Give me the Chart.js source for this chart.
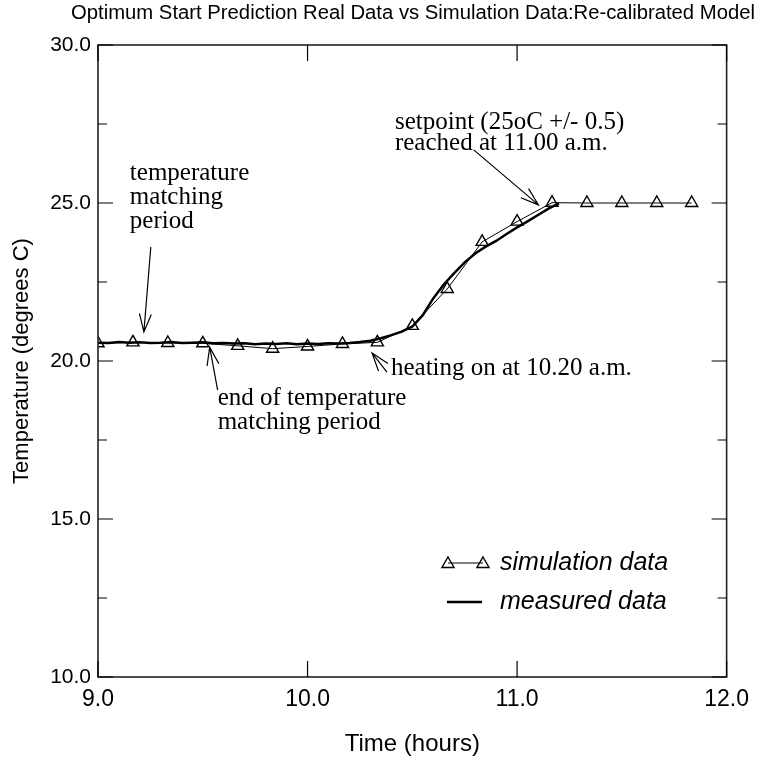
<!DOCTYPE html>
<html>
<head>
<meta charset="utf-8">
<script src="https://cdn.jsdelivr.net/npm/chart.js@4.4.0/dist/chart.umd.min.js"></script>
<style>
  html, body { margin: 0; padding: 0; background: #fff; }
  #wrap { width: 758px; height: 768px; }
</style>
</head>
<body>
<div id="wrap"><canvas id="chart" width="758" height="768"></canvas></div>
<script>
// simulation data, every 10 minutes
const simTimes = [9.0, 9.1667, 9.3333, 9.5, 9.6667, 9.8333, 10.0, 10.1667, 10.3333,
  10.5, 10.6667, 10.8333, 11.0, 11.1667, 11.3333, 11.5, 11.6667, 11.8333];
const simTemps = [20.56, 20.59, 20.57, 20.56, 20.48, 20.39, 20.46, 20.54, 20.59,
  21.11, 22.28, 23.77, 24.41, 25.01, 25.0, 25.0, 25.0, 25.0];

// measured data (logger)
const measTimes = [9.0, 9.05, 9.1, 9.15, 9.2, 9.25, 9.3, 9.35, 9.4, 9.45, 9.5, 9.55,
  9.6, 9.65, 9.7, 9.75, 9.8, 9.85, 9.9, 9.95, 10.0, 10.05, 10.1, 10.15, 10.2, 10.25,
  10.3, 10.35, 10.4, 10.45, 10.5, 10.55, 10.6, 10.65, 10.7, 10.75, 10.8, 10.85, 10.9,
  10.95, 11.0, 11.05, 11.1, 11.15, 11.2];
const measTemps = [20.58, 20.57, 20.6, 20.58, 20.59, 20.57, 20.58, 20.6, 20.57, 20.58,
  20.59, 20.56, 20.57, 20.55, 20.56, 20.53, 20.55, 20.54, 20.56, 20.53, 20.55, 20.54,
  20.56, 20.55, 20.57, 20.6, 20.64, 20.72, 20.82, 20.93, 21.09, 21.45, 21.98, 22.42,
  22.78, 23.12, 23.4, 23.62, 23.8, 24.02, 24.23, 24.42, 24.62, 24.82, 24.99];

const xTicks = [9, 10, 11, 12];
const yTicks = [10, 15, 20, 25, 30];
const yMinorTicks = [12.5, 17.5, 22.5, 27.5];

const titleText = "Optimum Start Prediction Real Data vs Simulation Data:Re-calibrated Model";
const legendLabels = ["simulation data", "measured data"];

// notes: text lines, text anchor (data), arrow tail and tip (data)
const notes = [
  { lines: ["temperature", "matching", "period"], at: [9.152, 25.92], step: 24,
    from: [9.252, 23.61], to: [9.219, 20.92] },
  { lines: ["end of temperature", "matching period"], at: [9.571, 18.83], step: 24,
    from: [9.571, 19.08], to: [9.533, 20.44] },
  { lines: ["heating on at 10.20 a.m."], at: [10.398, 19.78], step: 24,
    from: [10.379, 19.65], to: [10.308, 20.25] },
  { lines: ["setpoint (25oC +/- 0.5)", "reached at 11.00 a.m."], at: [10.417, 27.56], step: 21,
    from: [10.793, 26.68], to: [11.102, 24.94] }
];

const SANS = '"Liberation Sans", Arial, Helvetica, sans-serif';
const SERIF = '"Liberation Serif", "Times New Roman", serif';

function drawArrow(ctx, x1, y1, x2, y2) {
  const a = Math.atan2(y2 - y1, x2 - x1);
  const len = 19, spread = 0.32;
  ctx.beginPath();
  ctx.moveTo(x1, y1);
  ctx.lineTo(x2, y2);
  ctx.moveTo(x2 - len * Math.cos(a - spread), y2 - len * Math.sin(a - spread));
  ctx.lineTo(x2, y2);
  ctx.lineTo(x2 - len * Math.cos(a + spread), y2 - len * Math.sin(a + spread));
  ctx.stroke();
}

function drawTriangle(ctx, x, y, r) {
  ctx.beginPath();
  ctx.moveTo(x, y - r);
  ctx.lineTo(x + r * Math.sin(Math.PI * 2 / 3), y - r * Math.cos(Math.PI * 2 / 3));
  ctx.lineTo(x - r * Math.sin(Math.PI * 2 / 3), y - r * Math.cos(Math.PI * 2 / 3));
  ctx.closePath();
  ctx.stroke();
}

const decorations = {
  id: "decorations",
  afterDraw(chart) {
    const { ctx, chartArea: a, scales: { x, y } } = chart;
    ctx.save();
    ctx.strokeStyle = "#000";
    ctx.fillStyle = "#000";

    // frame
    ctx.lineWidth = 1.6;
    ctx.strokeStyle = "#222";
    ctx.strokeRect(a.left, a.top, a.right - a.left, a.bottom - a.top);
    ctx.strokeStyle = "#000";

    // ticks pointing inward on all four sides
    ctx.lineWidth = 1.2;
    ctx.beginPath();
    yTicks.concat(yMinorTicks).forEach(v => {
      const py = y.getPixelForValue(v);
      const len = yTicks.includes(v) ? 15 : 9;
      ctx.moveTo(a.left, py); ctx.lineTo(a.left + len, py);
      ctx.moveTo(a.right, py); ctx.lineTo(a.right - len, py);
    });
    xTicks.forEach(v => {
      const px = x.getPixelForValue(v);
      ctx.moveTo(px, a.bottom); ctx.lineTo(px, a.bottom - 16);
      ctx.moveTo(px, a.top); ctx.lineTo(px, a.top + 16);
    });
    ctx.stroke();

    // notes with arrows
    ctx.font = "25px " + SERIF;
    ctx.textAlign = "left";
    ctx.textBaseline = "middle";
    ctx.lineWidth = 1.2;
    notes.forEach(n => {
      const tx = x.getPixelForValue(n.at[0]);
      const ty = y.getPixelForValue(n.at[1]);
      n.lines.forEach((s, i) => ctx.fillText(s, tx, ty + i * n.step));
      drawArrow(ctx, x.getPixelForValue(n.from[0]), y.getPixelForValue(n.from[1]),
        x.getPixelForValue(n.to[0]), y.getPixelForValue(n.to[1]));
    });

    // legend
    ctx.lineWidth = 1;
    ctx.beginPath();
    ctx.moveTo(448, 563); ctx.lineTo(483, 563);
    ctx.stroke();
    ctx.lineWidth = 1.4;
    drawTriangle(ctx, 448, 564, 7);
    drawTriangle(ctx, 483, 564, 7);
    ctx.lineWidth = 2.5;
    ctx.beginPath();
    ctx.moveTo(447, 602); ctx.lineTo(482, 602);
    ctx.stroke();
    ctx.font = "italic 25px " + SANS;
    ctx.fillText(legendLabels[0], 500, 563);
    ctx.fillText(legendLabels[1], 500, 602);

    // title, condensed to fit its width
    ctx.font = "20px " + SANS;
    const w = ctx.measureText(titleText).width;
    ctx.translate(413, 13);
    ctx.scale(684 / w, 1);
    ctx.textAlign = "center";
    ctx.fillText(titleText, 0, 0);
    ctx.restore();
  }
};

new Chart(document.getElementById("chart"), {
  type: "line",
  data: {
    datasets: [
      {
        label: legendLabels[1],
        data: measTimes.map((t, i) => ({ x: t, y: measTemps[i] })),
        borderColor: "#000",
        borderWidth: 2.5,
        pointRadius: 0,
        tension: 0
      },
      {
        label: legendLabels[0],
        data: simTimes.map((t, i) => ({ x: t, y: simTemps[i] })),
        borderColor: "#000",
        borderWidth: 1,
        pointStyle: "triangle",
        pointRadius: 7,
        pointBorderWidth: 1.4,
        pointBorderColor: "#000",
        pointBackgroundColor: "rgba(0,0,0,0)",
        tension: 0
      }
    ]
  },
  options: {
    responsive: false,
    animation: false,
    layout: { padding: { top: 45, right: 30, bottom: 0, left: 0 } },
    plugins: { legend: { display: false }, tooltip: { enabled: false }, title: { display: false } },
    scales: {
      x: {
        type: "linear",
        min: 9, max: 12,
        afterBuildTicks: s => { s.ticks = xTicks.map(v => ({ value: v })); },
        afterFit: s => { s.height = 91; },
        grid: { display: false, drawTicks: false },
        border: { display: false },
        ticks: { padding: 9, color: "#000", font: { family: SANS, size: 23 },
          maxRotation: 0, autoSkip: false, callback: v => v.toFixed(1) },
        title: { display: true, text: "Time (hours)", color: "#000",
          font: { family: SANS, size: 24 }, padding: { bottom: 9 } }
      },
      y: {
        type: "linear",
        min: 10, max: 30,
        afterBuildTicks: s => { s.ticks = yTicks.map(v => ({ value: v })); },
        afterFit: s => { s.width = 98; },
        grid: { display: false, drawTicks: false },
        border: { display: false },
        ticks: { padding: 7, color: "#000", font: { family: SANS, size: 21 },
          autoSkip: false, callback: v => v.toFixed(1) },
        title: { display: true, text: "Temperature (degrees C)", color: "#000",
          font: { family: SANS, size: 22 }, padding: { top: 9 } }
      }
    }
  },
  plugins: [decorations]
});
</script>
</body>
</html>
